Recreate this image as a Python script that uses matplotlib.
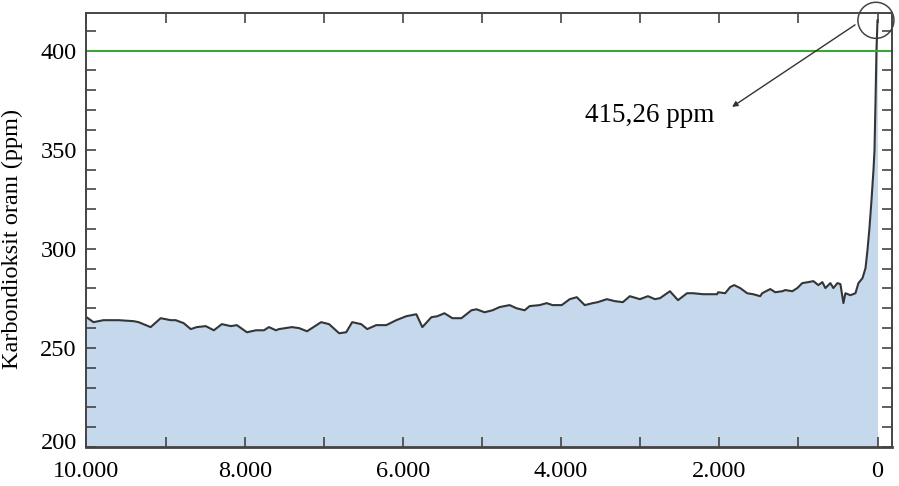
import matplotlib
matplotlib.use('Agg')
import matplotlib.pyplot as plt
from matplotlib.patches import Ellipse
from matplotlib.transforms import ScaledTranslation

plt.rcParams['font.family'] = ['Liberation Serif', 'DejaVu Serif']

# yıllar (günümüzden önce) ve CO2 değerleri (ppm)
years = [10000, 9911, 9785, 9594, 9404, 9341, 9189, 9062, 8935, 8872, 8771, 8682,
         8606, 8492, 8390, 8289, 8175, 8099, 7972, 7858, 7757, 7693, 7605, 7567,
         7402, 7313, 7212, 7034, 6933, 6806, 6717, 6641, 6527, 6451, 6337, 6210,
         6084, 5957, 5830, 5754, 5640, 5564, 5475, 5374, 5260, 5133, 5070, 4968,
         4867, 4778, 4651, 4563, 4461, 4398, 4271, 4183, 4106, 3992, 3891, 3802,
         3701, 3600, 3536, 3422, 3321, 3219, 3131, 3004, 2902, 2814, 2750, 2624,
         2522, 2408, 2332, 2205, 2028, 2015, 1926, 1863, 1812, 1736, 1648, 1572,
         1483, 1458, 1356, 1293, 1204, 1166, 1077, 1014, 951, 875, 811, 748,
         697, 659, 596, 558, 507, 469, 431, 406, 342, 279, 241, 190,
         152, 127, 101, 76, 51, 38, 25, 13, 0]
co2 = [265.5, 263.0, 264.0, 264.0, 263.5, 263.0, 260.5, 265.0, 264.0, 264.0, 262.5, 259.5,
       260.5, 261.0, 258.9, 262.0, 261.0, 261.5, 257.9, 258.9, 258.9, 260.5, 258.9, 259.5,
       260.5, 260.0, 258.4, 263.0, 262.0, 257.4, 257.9, 263.0, 262.0, 259.5, 261.5, 261.5,
       264.0, 266.0, 267.0, 260.5, 265.5, 266.0, 267.5, 265.0, 265.0, 269.0, 269.5, 268.0,
       269.0, 270.6, 271.6, 270.0, 269.0, 271.1, 271.6, 272.6, 271.6, 271.6, 274.6, 275.6,
       271.6, 272.6, 273.1, 274.6, 273.6, 273.1, 276.1, 274.6, 276.1, 274.6, 275.1, 278.6,
       274.1, 277.6, 277.6, 277.1, 277.1, 278.1, 277.6, 280.7, 281.7, 280.2, 277.6, 277.1,
       276.1, 277.6, 279.7, 278.1, 278.6, 279.2, 278.6, 280.2, 282.7, 283.2, 283.7, 281.7,
       283.2, 280.2, 282.7, 280.2, 282.7, 282.2, 272.6, 277.6, 276.6, 277.6, 282.7, 285.2,
       290.2, 299.3, 310.9, 324.6, 339.7, 349.8, 375.1, 400.4, 415.26]

xtick_vals = list(range(10000, -1, -1000))
xtick_labels = ['10.000', '', '8.000', '', '6.000', '', '4.000', '', '2.000', '', '0']
ytick_vals = list(range(200, 420, 10))
ytick_labels = [str(v) if v % 50 == 0 else '' for v in ytick_vals]
ref_level = 400
peak_label = '415,26 ppm'

fig = plt.figure(figsize=(8.99, 4.86), dpi=100)
ax = fig.add_axes([0.0962, 0.0802, 0.896, 0.8931])

ax.fill_between(years, co2, 200, color='#c6d8eb', lw=0)
ax.plot(years, co2, color='#353535', lw=1.5)
ax.axhline(ref_level, color='#3aa63a', lw=1.5)

ax.set_xlim(10000, -183)
ax.set_ylim(200, 419)

ax.set_xticks(xtick_vals)
ax.set_xticklabels(xtick_labels, fontsize=17.5)
ax.set_yticks(ytick_vals)
ax.set_yticklabels(ytick_labels, fontsize=17.5)
ax.tick_params(direction='in', top=True, right=True, length=7, width=1.2,
               color='#444444')
ax.tick_params(axis='y', pad=7)
ax.tick_params(axis='x', pad=10)

# 200 etiketi biraz yukarıda
lab200 = ax.get_yticklabels()[0]
lab200.set_transform(lab200.get_transform() + ScaledTranslation(0, 6 / 100, fig.dpi_scale_trans))

for s in ax.spines.values():
    s.set_color('#444444')
    s.set_linewidth(1.4)
ax.spines['bottom'].set_linewidth(2)

ax.set_ylabel('Karbondioksit oranı (ppm)', fontsize=17.5)
ax.yaxis.set_label_coords(-0.079, 0.48)

# çember ve ok
circ = Ellipse((20, 415.3), 455, 18.2, fill=False, ec='#444444', lw=1.1, clip_on=False)
ax.add_patch(circ)
ax.annotate('', xy=(1839, 371.6), xytext=(284, 413),
            arrowprops=dict(arrowstyle='-|>', color='#333333', lw=1.0,
                            mutation_scale=8, shrinkA=0, shrinkB=0))
ax.text(2876, 367.5, peak_label, fontsize=19.5, ha='center', va='center')

fig.savefig('out.png', dpi=100)
